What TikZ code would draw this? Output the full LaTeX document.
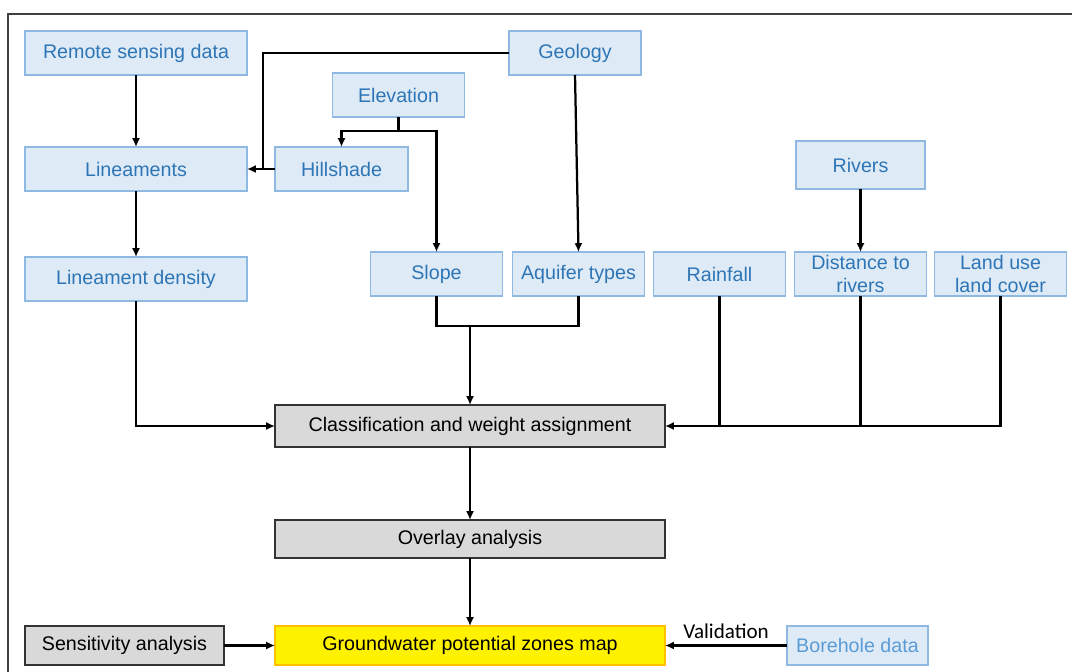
\documentclass[tikz,border=0pt]{standalone}
\usepackage{fontspec}
\setmainfont{Liberation Sans}
\newfontfamily\calfont{Carlito}
\usepackage{xcolor}
\usetikzlibrary{arrows.meta,positioning,calc}

\definecolor{boxblue}{HTML}{DEEBF7}
\definecolor{edgeblue}{HTML}{8FB8E3}
\definecolor{textblue}{HTML}{2E75B6}
\definecolor{lightblue}{HTML}{5B9BD5}
\definecolor{procgray}{HTML}{D9D9D9}
\definecolor{edgegold}{HTML}{FFC000}

\begin{document}
\begin{tikzpicture}[
  font=\fontsize{14}{16}\selectfont,
  databox/.style={draw=edgeblue, line width=0.9pt, fill=boxblue, text=textblue, align=center, inner sep=0pt, outer sep=0pt, minimum height=1.1cm, minimum width=3.3cm},
  procbox/.style={draw=black!80, line width=0.9pt, fill=procgray, align=center, inner sep=0pt, outer sep=0pt, minimum height=1.05cm, minimum width=9.75cm},
  line/.style={line width=1.6pt},
  arrow/.style={line width=1.6pt, -{Latex[length=2.2mm,width=2mm]}}
]
\clip (-0.625,0.775) rectangle (26.175,-16.0);
\draw[black!75, line width=1pt] (-0.425,0.425) rectangle (27,-17);

% data layers
\node[databox, anchor=north west, minimum width=5.55cm] (rsdata) at (0,0) {Remote sensing data};
\node[databox, right=6.55cm of rsdata] (geo) {Geology};
\node[databox, minimum width=5.55cm, below=1.8cm of rsdata] (lin) {Lineaments};
\node[databox, minimum width=3.325cm, right=0.7cm of lin] (hill) {Hillshade};
\node[databox, above=0.75cm of hill, xshift=1.425cm] (elev) {Elevation};
\node[databox, minimum width=5.55cm, below=1.65cm of lin] (lindens) {Lineament density};
\node[databox, below=1.525cm of hill, xshift=2.375cm] (slope) {Slope};
\node[databox, right=0.25cm of slope] (aq) {Aquifer types};
\node[databox, right=0.225cm of aq] (rain) {Rainfall};
\node[databox, right=0.225cm of rain] (dist) {Distance to\\rivers};
\node[databox, right=0.2cm of dist] (landuse) {Land use\\land cover};
\node[databox, minimum width=3.225cm, minimum height=1.2cm, above=1.575cm of dist] (rivers) {Rivers};

% processing
\node[procbox, below right=2.6cm and 0.7cm of lindens] (class) {Classification and weight assignment};
\node[procbox, minimum height=0.95cm, below=1.825cm of class] (overlay) {Overlay analysis};
\node[procbox, minimum height=0.975cm, fill=yellow, draw=edgegold, below=1.7cm of overlay] (gwmap) {Groundwater potential zones map};
\node[procbox, minimum height=0.975cm, minimum width=4.975cm, left=1.275cm of gwmap] (sens) {Sensitivity analysis};
\node[databox, minimum height=0.975cm, minimum width=3.525cm, text=lightblue, right=3.05cm of gwmap] (bore) {Borehole data};

\coordinate (geojoin) at ($(lin.east)+(0.4,0)$);
\coordinate (elevsplit) at ($(elev.south)+(0,-0.35)$);
\coordinate (sajoin) at ($(slope.south)+(0,-0.75)$);

\draw[arrow] (rsdata) -- (lin);
\draw[line] (geo.west) -| (geojoin);
\draw[arrow] (hill.west) -- (lin.east);
\draw[line] (elev.south) -- (elevsplit);
\draw[arrow] (elevsplit) -| (hill.north);
\draw[arrow] (elevsplit) -| (slope.north);
\draw[arrow] (geo.south) -- (aq.north);
\draw[arrow] (lin) -- (lindens);
\draw[arrow] (rivers) -- (dist);

\draw[arrow] (lindens.south) |- (class.west);
\draw[line] (slope.south) -- (sajoin) -| (aq.south);
\draw[arrow] (sajoin -| class.north) -- (class.north);
\draw[arrow] (landuse.south) |- (class.east);
\draw[line] (rain.south) -- (rain.south |- class.east);
\draw[line] (dist.south) -- (dist.south |- class.east);

\draw[arrow] (class) -- (overlay);
\draw[arrow] (overlay) -- (gwmap);
\draw[arrow] (sens) -- (gwmap);
\draw[arrow] (bore) -- node[above=1pt, font=\calfont\fontsize{15}{17}\selectfont] (valid) {Validation} (gwmap);
\end{tikzpicture}
\end{document}
